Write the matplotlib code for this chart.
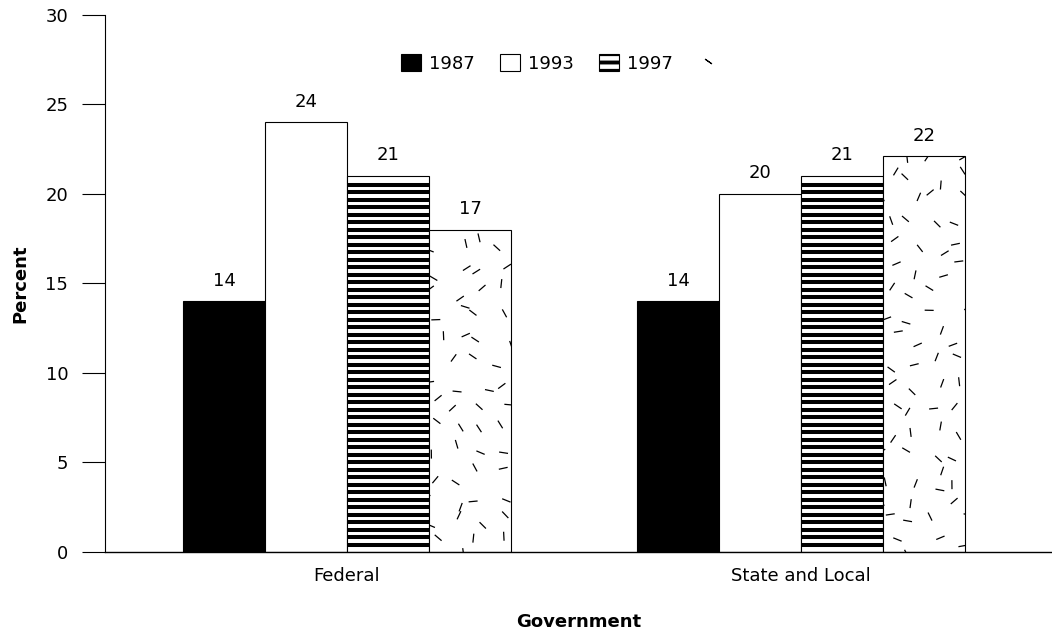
import matplotlib
matplotlib.use("Agg")
import matplotlib.pyplot as plt
import numpy as np
from matplotlib.collections import LineCollection
from matplotlib.lines import Line2D
from matplotlib.patches import Patch

plt.rcParams["font.family"] = ["DejaVu Sans"]
plt.rcParams["hatch.linewidth"] = 2.8
FS = 13

# data
categories = ["Federal", "State and Local"]
series = ["1987", "1993", "1997", ""]
values = {
    "1987": [14, 14],
    "1993": [24, 20],
    "1997": [21, 21],
    "": [18, 22.1],
}
# printed labels (the federal 4th bar is labelled 17 in the source)
value_labels = {
    "1987": ["14", "14"],
    "1993": ["24", "20"],
    "1997": ["21", "21"],
    "": ["17", "22"],
}

fills = {"1987": "black", "1993": "white", "1997": "white", "": "white"}


def bar_pixels(ax, bar):
    return ax.transData.transform(
        [(bar.get_x(), bar.get_y()), (bar.get_x() + bar.get_width(), bar.get_y() + bar.get_height())])


def add_segments(ax, bar, segs, lw):
    inv = ax.transData.inverted()
    segs = [inv.transform(np.array(s)) for s in segs]
    lc = LineCollection(segs, colors="black", linewidths=lw, zorder=3)
    ax.add_collection(lc)
    lc.set_clip_path(bar)  # after add_collection, otherwise it gets reset to the axes patch


def add_stripes(ax, bar, period=7.5, top_gap=8.5):
    (x0, y0), (x1, y1) = bar_pixels(ax, bar)
    segs = [[(x0, y), (x1, y)] for y in np.arange(y1 - top_gap, y0 + 1, -period)]
    add_segments(ax, bar, segs, lw=2.9)


def add_dash_texture(ax, bar, rng, spacing=23, length=9):
    """scatter short random dashes inside a bar (pixel units)"""
    (x0, y0), (x1, y1) = bar_pixels(ax, bar)
    segs = []
    for gx in np.arange(x0 + spacing * 0.3, x1, spacing):
        for gy in np.arange(y0 + spacing * 0.3, y1 + spacing * 0.5, spacing):
            cx = gx + rng.uniform(-spacing * 0.4, spacing * 0.4)
            cy = gy + rng.uniform(-spacing * 0.4, spacing * 0.4)
            ang = rng.uniform(0, np.pi)
            dx, dy = np.cos(ang) * length / 2, np.sin(ang) * length / 2
            segs.append([(cx - dx, cy - dy), (cx + dx, cy + dy)])
    add_segments(ax, bar, segs, lw=0.9)


fig = plt.figure(figsize=(10.52, 6.33), dpi=100)
ax = fig.add_axes([0.0998, 0.128, 0.9002, 0.8483])

x = np.arange(len(categories))
width = 0.1806
ax.set_xlim(-0.533, 1.553)
ax.set_ylim(0, 30)

rng = np.random.default_rng(7)  # texture only
for i, s in enumerate(series):
    offs = (i - 1.5) * width
    bars = ax.bar(x + offs, values[s], width, facecolor=fills[s], edgecolor="black",
                  linewidth=0.8, zorder=2)
    for b, lab in zip(bars, value_labels[s]):
        ax.annotate(lab, (b.get_x() + b.get_width() / 2, b.get_height()),
                    xytext=(0, 8.5), textcoords="offset points",
                    ha="center", va="bottom", fontsize=FS)
        if s == "1997":
            add_stripes(ax, b)
        elif s == "":
            add_dash_texture(ax, b, rng)

# legend
handles = [
    Patch(facecolor="black", edgecolor="black", linewidth=0.8),
    Patch(facecolor="white", edgecolor="black", linewidth=0.8),
    Patch(facecolor="white", edgecolor="black", linewidth=0.8, hatch="--"),
    Line2D([], [], marker=(2, 2, 55), linestyle="none", color="black",
           markersize=6, markeredgewidth=0.8),
]
ax.legend(handles, series, ncol=4, frameon=False, loc="center",
          bbox_to_anchor=(0.484, 0.91), fontsize=FS, handlelength=1.1,
          handleheight=1.05, handletextpad=0.45, columnspacing=1.4)

ax.spines["top"].set_visible(False)
ax.spines["right"].set_visible(False)
ax.spines["left"].set_linewidth(0.8)
ax.spines["bottom"].set_linewidth(1.0)

ax.set_yticks(np.arange(0, 31, 5))
ax.tick_params(axis="y", direction="out", length=16.5, width=0.8, pad=10, labelsize=FS)
ax.set_xticks(x)
ax.set_xticklabels(categories)
ax.tick_params(axis="x", length=0, pad=11, labelsize=FS)

ax.set_ylabel("Percent", fontsize=FS, fontweight="bold", labelpad=11.5)
ax.set_xlabel("Government", fontsize=FS, fontweight="bold", labelpad=20)

fig.savefig("out.png", dpi=100)
